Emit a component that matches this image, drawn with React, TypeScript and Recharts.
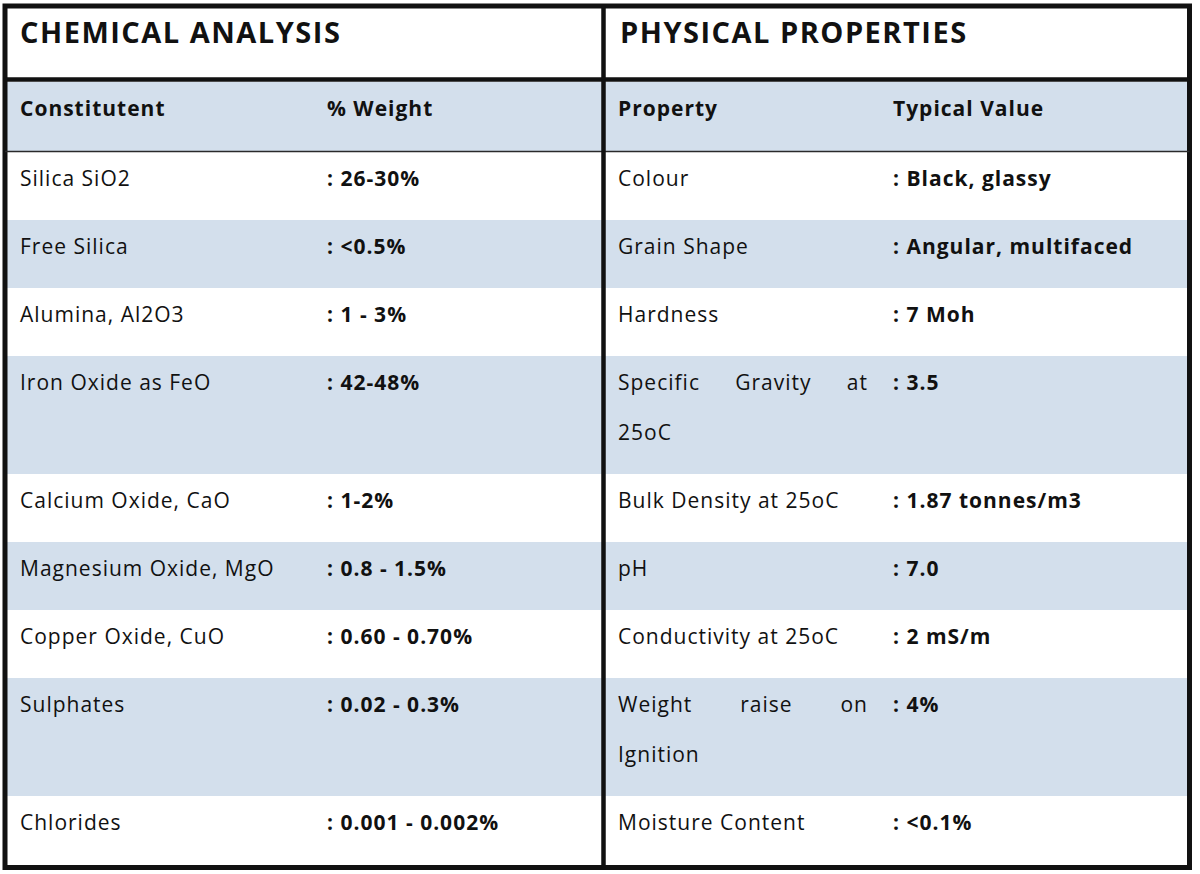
import {
  ComposedChart,
  XAxis,
  YAxis,
  Scatter,
  ReferenceArea,
  ReferenceLine,
} from "recharts"

const titles = ["CHEMICAL ANALYSIS", "PHYSICAL PROPERTIES"]

const headers = ["Constitutent", "% Weight", "Property", "Typical Value"]

const constituents = [
  "Silica SiO2",
  "Free Silica",
  "Alumina, Al2O3",
  "Iron Oxide as FeO",
  "Calcium Oxide, CaO",
  "Magnesium Oxide, MgO",
  "Copper Oxide, CuO",
  "Sulphates",
  "Chlorides",
]

const weights = [
  ": 26-30%",
  ": <0.5%",
  ": 1 - 3%",
  ": 42-48%",
  ": 1-2%",
  ": 0.8 - 1.5%",
  ": 0.60 - 0.70%",
  ": 0.02 - 0.3%",
  ": 0.001 - 0.002%",
]

// "\n" marks where the cell wraps in the original
const properties = [
  "Colour",
  "Grain Shape",
  "Hardness",
  "Specific Gravity at\n25oC",
  "Bulk Density at 25oC",
  "pH",
  "Conductivity at 25oC",
  "Weight raise on\nIgnition",
  "Moisture Content",
]

const typicalValues = [
  ": Black, glassy",
  ": Angular, multifaced",
  ": 7 Moh",
  ": 3.5",
  ": 1.87 tonnes/m3",
  ": 7.0",
  ": 2 mS/m",
  ": 4%",
  ": <0.1%",
]

const W = 1200
const H = 874
const FONT = "'Open Sans', sans-serif"
const INK = "#111111"
const BAND = "#d3dfec"

const BODY_SIZE = 21
const BODY_SPACING = 1
const TITLE_SIZE = 29
const TITLE_SPACING = 1.5

// table geometry (chart units = px, axes span the whole svg)
const LEFT = 5
const RIGHT = 1189.5
const TOP = 6
const BOTTOM = 867.5
const MID = 603.5
const TITLE_LINE = 79.5
const HEADER_TOP = 82
const HEADER_BOTTOM = 151
const BODY_TOP = 152
const ROW_H = 68
const LINE_STEP = 50
const BASE_OFF = 34
const COL_X = [20, 327, 618, 893]
const TITLE_X = [20, 620]
const RIGHT_TEXT_END = 868

interface Cell {
  x: number
  y: number
  text: string
  anchor?: "start" | "end"
}

let ctx: CanvasRenderingContext2D | null = null
function measure(text: string, font: string) {
  if (!ctx) ctx = document.createElement("canvas").getContext("2d")
  if (!ctx) return text.length * 11
  ctx.font = font
  return ctx.measureText(text).width + text.length * BODY_SPACING
}

// justified line: words spread across the cell, last word flush right
function justify(line: string, x0: number, x1: number, y: number): Cell[] {
  const font = `400 ${BODY_SIZE}px ${FONT}`
  const words = line.split(" ")
  const widths = words.map((w) => measure(w, font))
  const total = widths.reduce((a, b) => a + b, 0)
  const gap = (x1 - x0 - total) / Math.max(words.length - 1, 1)
  let x = x0
  return words.map((w, k) => {
    const cell: Cell =
      k === words.length - 1 && k > 0
        ? { x: x1, y, text: w, anchor: "end" }
        : { x, y, text: w }
    x += widths[k] + gap
    return cell
  })
}

let cursor = BODY_TOP
const rows = constituents.map((name, i) => {
  const propLines = properties[i].split("\n")
  const h = ROW_H + LINE_STEP * (propLines.length - 1)
  const row = {
    name,
    weight: weights[i],
    propLines,
    value: typicalValues[i],
    top: cursor,
    bottom: cursor + h,
    banded: i % 2 === 1,
  }
  cursor += h
  return row
})

const titleCells: Cell[] = titles.map((t, i) => ({
  x: TITLE_X[i],
  y: 43,
  text: t,
}))

const headerCells: Cell[] = headers.map((t, i) => ({
  x: COL_X[i],
  y: HEADER_TOP + BASE_OFF,
  text: t,
}))

const labelCells: Cell[] = rows.flatMap((r) => {
  const base = r.top + BASE_OFF
  const out: Cell[] = [{ x: COL_X[0], y: base, text: r.name }]
  r.propLines.forEach((line, k) => {
    const y = base + k * LINE_STEP
    if (k < r.propLines.length - 1) {
      out.push(...justify(line, COL_X[2], RIGHT_TEXT_END, y))
    } else {
      out.push({ x: COL_X[2], y, text: line })
    }
  })
  return out
})

const valueCells: Cell[] = rows.flatMap((r) => [
  { x: COL_X[1], y: r.top + BASE_OFF, text: r.weight },
  { x: COL_X[3], y: r.top + BASE_OFF, text: r.value },
])

const textShape =
  (size: number, weight: number, spacing: number) => (props: any) => {
    const { cx, cy, payload } = props
    return (
      <text
        x={cx}
        y={cy}
        fontSize={size}
        fontWeight={weight}
        fontFamily={FONT}
        letterSpacing={spacing}
        fill={INK}
        textAnchor={payload.anchor ?? "start"}
      >
        {payload.text}
      </text>
    )
  }

export default function App() {
  return (
    <div style={{ position: "absolute", left: 0, top: 0, width: W, height: H, background: "#fff" }}>
      <ComposedChart
        width={W}
        height={H}
        margin={{ top: 0, right: 0, bottom: 0, left: 0 }}
      >
        <XAxis type="number" dataKey="x" domain={[0, W]} hide />
        <YAxis type="number" dataKey="y" domain={[0, H]} reversed hide />

        <ReferenceArea
          x1={LEFT}
          x2={RIGHT}
          y1={HEADER_TOP}
          y2={HEADER_BOTTOM}
          fill={BAND}
          fillOpacity={1}
          stroke="none"
        />
        {rows
          .filter((r) => r.banded)
          .map((r) => (
            <ReferenceArea
              key={r.name}
              x1={LEFT}
              x2={RIGHT}
              y1={r.top}
              y2={r.bottom}
              fill={BAND}
              fillOpacity={1}
              stroke="none"
            />
          ))}

        <ReferenceLine
          segment={[{ x: LEFT, y: HEADER_BOTTOM + 0.5 }, { x: RIGHT, y: HEADER_BOTTOM + 0.5 }]}
          stroke="#2a2a2a"
          strokeWidth={1.5}
        />
        <ReferenceLine
          segment={[{ x: LEFT, y: TITLE_LINE }, { x: RIGHT, y: TITLE_LINE }]}
          stroke={INK}
          strokeWidth={4.5}
        />
        <ReferenceLine
          segment={[{ x: MID, y: TOP }, { x: MID, y: BOTTOM }]}
          stroke={INK}
          strokeWidth={4.5}
        />
        <ReferenceArea
          x1={LEFT}
          x2={RIGHT}
          y1={TOP}
          y2={BOTTOM}
          fill="none"
          stroke={INK}
          strokeWidth={5}
        />

        <Scatter
          data={titleCells}
          shape={textShape(TITLE_SIZE, 700, TITLE_SPACING)}
          isAnimationActive={false}
        />
        <Scatter
          data={headerCells}
          shape={textShape(BODY_SIZE, 700, BODY_SPACING)}
          isAnimationActive={false}
        />
        <Scatter
          data={labelCells}
          shape={textShape(BODY_SIZE, 400, BODY_SPACING)}
          isAnimationActive={false}
        />
        <Scatter
          data={valueCells}
          shape={textShape(BODY_SIZE, 700, BODY_SPACING)}
          isAnimationActive={false}
        />
      </ComposedChart>
    </div>
  )
}
